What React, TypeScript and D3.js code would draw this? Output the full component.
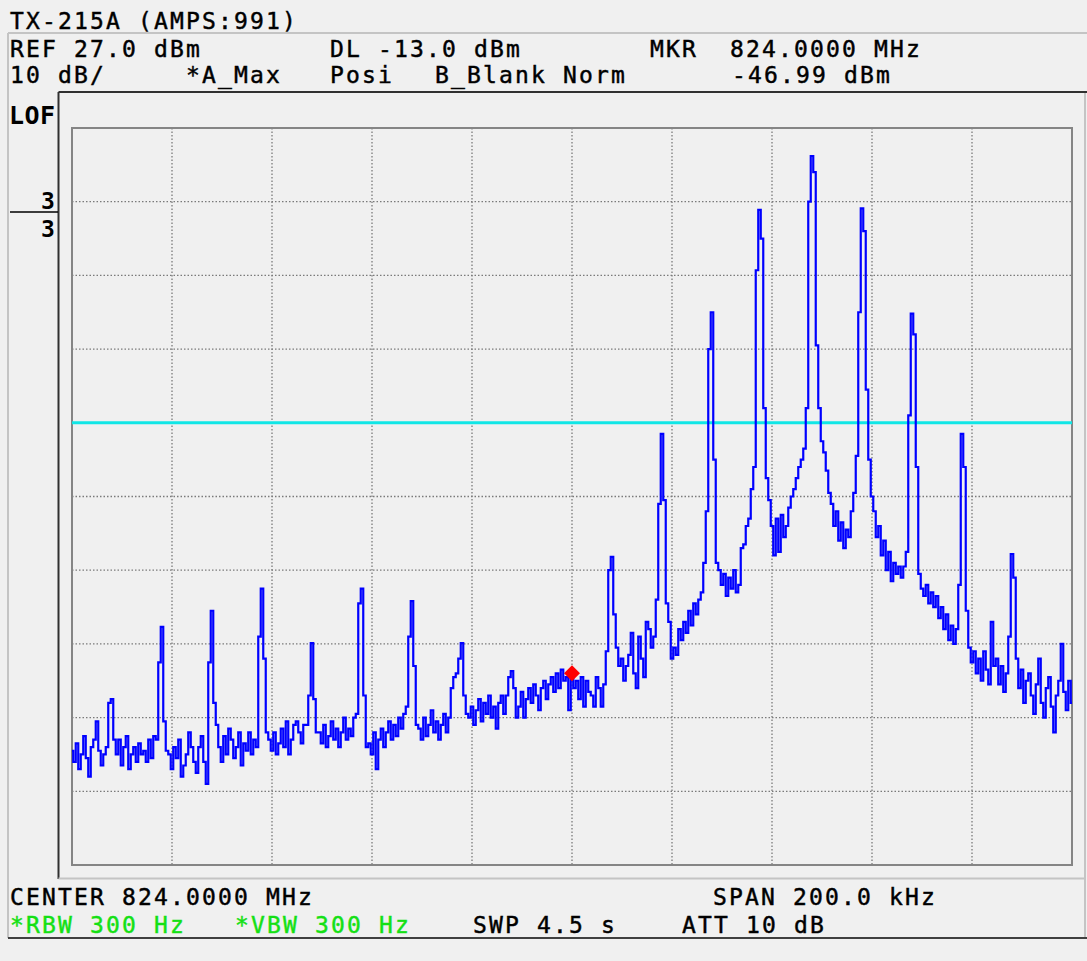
import * as d3 from 'd3';

// spectrum analyser settings
const refLevelDbm = 27;
const dbPerDiv = 10;
const divisions = 10;
const spanKHz = 200;
const displayLineDbm = -13;
const markerKHz = 0;
const markerDbm = -46.99;

// trace A (max hold), 401 sweep points across the span, dBm
const traceDbm = [
  -57.5, -59, -56.5, -60, -58, -55.5, -58.5, -61, -57, -56, -53.5, -57.5, -59.5, -58, -57, -51, -50.5, -56, -58, -56,
  -59.5, -57, -55.5, -60, -58, -57, -59, -56.5, -58, -57.5, -59, -56, -58.5, -55.5, -56, -45.5, -40.7, -53.5, -57.5, -58,
  -60, -57, -58.5, -56, -61, -59.5, -58, -55, -57, -59, -60.5, -57, -55.5, -59, -62, -45.5, -38.5, -51, -54, -57,
  -59, -55.5, -58, -54.5, -56, -58.5, -57, -55, -59.5, -56.5, -57.5, -55, -58, -56, -57, -42, -35.5, -45, -55, -56,
  -57.5, -55, -58, -56.5, -54.5, -57, -53.5, -58, -56, -54, -53.5, -55, -56.5, -54, -54, -50, -42.9, -50.5, -55, -55,
  -56.5, -54, -57, -55.5, -53.5, -56, -54.5, -57, -55, -53, -56, -54.5, -55.5, -53, -52.5, -37.5, -35.5, -50, -57, -56.5,
  -58, -55, -60, -56, -54.5, -57, -55, -53.5, -56, -54, -55.5, -53, -54.5, -52.5, -51.5, -42, -37.2, -46, -54, -54.5,
  -56, -53, -55.5, -54, -52, -55, -53.5, -56, -54, -52.5, -55, -53, -49, -47.5, -47, -45, -42.9, -50, -52.5, -53,
  -51.5, -54, -52, -50.5, -53.5, -51, -52.5, -50, -53, -51.5, -54.5, -51, -50, -52.5, -50, -47.5, -46.7, -49, -53, -51.5,
  -49.5, -53, -50.5, -49, -51, -48.5, -50, -52, -49, -48, -50.5, -48.5, -47.5, -49.5, -47, -49, -46.5, -48, -47.5, -52,
  -47, -49, -48, -50.5, -47.5, -51.5, -48, -49.5, -50, -51.5, -47.5, -49, -51.5, -48.5, -44, -33, -31.2, -39, -43.5, -46,
  -45, -48, -46, -44.5, -41.5, -47, -49, -42, -45, -47.5, -40, -41, -43.5, -42, -37, -24, -14.5, -23.5, -37.5, -40,
  -45, -43.5, -44.5, -41, -42.5, -40, -41.5, -38.5, -40.5, -37.5, -39, -37, -36, -32, -25, -3, 2, -18, -32, -33,
  -35, -33.5, -36.5, -34, -35.5, -33, -36, -35, -30, -29.5, -27, -26, -22, -19, 7.7, 15.9, 12, -11, -20.5, -23.5,
  -27, -31, -26, -30.5, -25.5, -28.5, -27, -24.5, -23, -22, -20.5, -19, -18, -16.5, -11, 17, 23.2, 21, -2.5, -11,
  -15.5, -17, -19.5, -22.5, -24, -27, -25, -29, -26.5, -30, -27.5, -28.5, -25, -22.5, -17.5, 2, 16.1, 13, -8.5, -18,
  -23, -25, -28.5, -27, -31, -29, -33, -30.5, -34.5, -32, -33.5, -32.5, -34, -32.5, -30.5, -12, 1.8, -1, -19, -33.5,
  -35.5, -36.5, -35, -37.5, -36, -38, -36.5, -39.5, -38, -41, -39, -42.5, -40.5, -43, -41, -35, -14.5, -19, -38.5, -43.5,
  -45.5, -44, -47, -45, -48, -44, -46.5, -48.5, -40, -46, -45, -48.5, -46, -49.5, -47, -42, -30.8, -34, -45, -49,
  -46.5, -51, -48, -47, -50, -52.5, -48.5, -45, -51, -53, -49, -47.5, -51.5, -55, -50, -48, -43, -49.5, -52, -48, -51,
];

const W = 1087;
const H = 961;
const left = 72;
const right = 1072;
const top = 128;
const bottom = 865;

const font = "'DejaVu Sans Mono', monospace";

export default function App() {
  const x = d3.scaleLinear().domain([-spanKHz / 2, spanKHz / 2]).range([left, right]);
  const bottomDb = refLevelDbm - dbPerDiv * divisions;
  const y = d3.scaleLinear().domain([bottomDb, refLevelDbm]).range([bottom, top]);

  const step = spanKHz / (traceDbm.length - 1);
  const line = d3
    .line<number>()
    .x((d, i) => x(-spanKHz / 2 + i * step))
    .y((d) => y(d))
    .curve(d3.curveStep);

  const vLines = d3.range(1, divisions).map((k) => -spanKHz / 2 + (k * spanKHz) / divisions);
  const hLines = d3.range(1, divisions).map((k) => refLevelDbm - k * dbPerDiv);

  const mx = x(markerKHz);
  const my = y(markerDbm);

  const txt = (tx: number, ty: number, s: string, fill = '#000') => (
    <text
      x={tx}
      y={ty}
      fill={fill}
      stroke={fill}
      strokeWidth={0.45}
      fontFamily={font}
      fontSize={23}
      letterSpacing={2.15}
    >
      {s}
    </text>
  );

  return (
    <svg width={W} height={H} style={{ position: 'absolute', left: 0, top: 0, background: '#f0f0f0' }}>
      <rect x={0} y={0} width={W} height={H} fill="#f0f0f0" />

      {/* screen frame */}
      <line x1={8} x2={W} y1={33} y2={33} stroke="#c4c4c4" strokeWidth={2} />
      <line x1={8} x2={8} y1={33} y2={938} stroke="#c4c4c4" strokeWidth={2} />
      <line x1={1085} x2={1085} y1={92} y2={938} stroke="#c4c4c4" strokeWidth={2} />
      <line x1={58.5} x2={W} y1={92} y2={92} stroke="#303030" strokeWidth={2} />
      <line x1={58.5} x2={58.5} y1={92} y2={879} stroke="#303030" strokeWidth={2} />
      <line x1={58.5} x2={1085} y1={878.5} y2={878.5} stroke="#c4c4c4" strokeWidth={2} />
      <line x1={8} x2={W} y1={938} y2={938} stroke="#404040" strokeWidth={2} />

      {/* header */}
      {txt(10, 29, 'TX-215A (AMPS:991)')}
      {txt(10, 57, 'REF 27.0 dBm')}
      {txt(330, 57, 'DL -13.0 dBm')}
      {txt(650, 57, 'MKR')}
      {txt(730, 57, '824.0000 MHz')}
      {txt(10, 83, '10 dB/')}
      {txt(186, 83, '*A_Max')}
      {txt(330, 83, 'Posi')}
      {txt(435, 83, 'B_Blank Norm')}
      {txt(732, 83, '-46.99 dBm')}

      <text x={9} y={124} fontFamily={font} fontSize={25} fontWeight="bold" letterSpacing={0.5}>
        LOF
      </text>
      <text x={41} y={209} fontFamily={font} fontSize={23} fontWeight="bold">
        3
      </text>
      <line x1={10} x2={58} y1={212} y2={212} stroke="#000" strokeWidth={1.5} />
      <text x={41} y={237} fontFamily={font} fontSize={23} fontWeight="bold">
        3
      </text>

      {/* graticule */}
      <g stroke="#7a7a7a" strokeWidth={1.3} strokeDasharray="1.5,2">
        {vLines.map((f) => (
          <line key={'v' + f} x1={x(f)} x2={x(f)} y1={top} y2={bottom} />
        ))}
        {hLines.map((db) => (
          <line key={'h' + db} x1={left} x2={right} y1={y(db)} y2={y(db)} />
        ))}
      </g>
      <rect x={left} y={top} width={right - left} height={bottom - top} fill="none" stroke="#858585" strokeWidth={2} />

      <defs>
        <clipPath id="plot">
          <rect x={left} y={top} width={right - left} height={bottom - top} />
        </clipPath>
      </defs>

      <g clipPath="url(#plot)">
        <line x1={left} x2={right} y1={y(displayLineDbm)} y2={y(displayLineDbm)} stroke="#10e6e6" strokeWidth={3} />
        <path d={line(traceDbm) || ''} fill="none" stroke="#0000ff" strokeWidth={2.2} />
        <path d={`M${mx},${my - 8}L${mx + 8},${my}L${mx},${my + 8}L${mx - 8},${my}Z`} fill="#ff0000" />
      </g>

      {/* footer */}
      {txt(10, 905, 'CENTER 824.0000 MHz')}
      {txt(713, 905, 'SPAN 200.0 kHz')}
      {txt(10, 933, '*RBW 300 Hz', '#14e014')}
      {txt(235, 933, '*VBW 300 Hz', '#14e014')}
      {txt(473, 933, 'SWP 4.5 s')}
      {txt(682, 933, 'ATT 10 dB')}
    </svg>
  );
}
